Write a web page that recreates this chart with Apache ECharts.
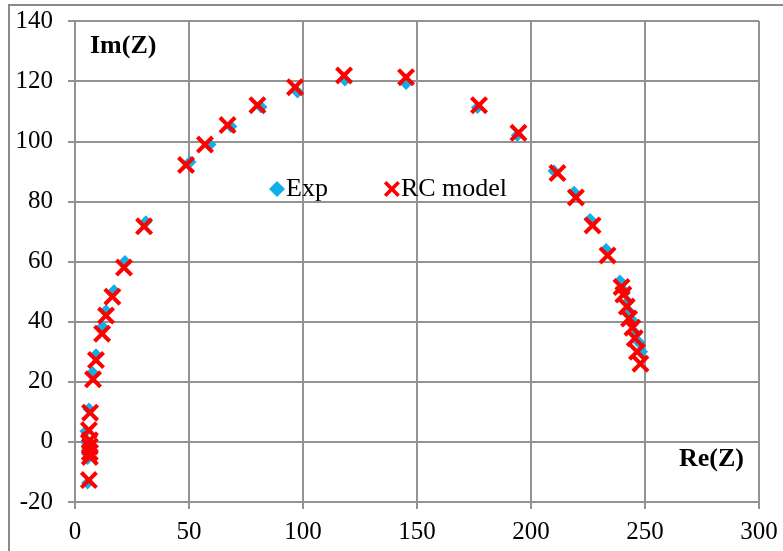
<!DOCTYPE html>
<html>
<head>
<meta charset="utf-8">
<script src="https://cdn.jsdelivr.net/npm/echarts@6/dist/echarts.min.js"></script>
<style>
  html, body { margin: 0; padding: 0; background: #fff; }
  #chart { width: 783px; height: 551px; }
</style>
</head>
<body>
<div id="chart"></div>
<script>
// Nyquist data, [Re(Z), Im(Z)]
var expData = [
  [5.5, -13.7], [5.5, -5.5], [5.5, -4], [5.5, -2], [5, 0], [4.8, 3.5], [6.1, 10.9],
  [7.7, 23.1], [9.2, 29], [12, 38.3], [13.6, 43.6], [17.1, 50.3], [21.9, 60], [31.1, 73.2],
  [50.4, 93.1], [59.2, 98.9], [68.4, 104.9], [81.6, 111.4], [97.6, 116.4], [118.4, 120.4],
  [145.2, 119.2], [176.5, 111.2], [194, 102], [210.1, 90.1], [218.9, 83], [225.9, 74],
  [232.9, 64], [239, 53.5], [241, 50], [242.5, 46.5], [243.5, 43], [245, 40], [246, 36],
  [247.5, 33], [248.5, 30]
];
var rcData = [
  [6.1, -12.7], [6.5, -5], [6.5, -3.5], [6.5, -1.5], [6.5, 0.5], [6.1, 3.9], [6.6, 9.7],
  [7.9, 20.8], [9.2, 27.2], [11.9, 36], [13.6, 42], [16.4, 48.3], [21.5, 58], [30.3, 71.7],
  [48.7, 92.1], [57, 98.9], [66.9, 105.4], [80, 112], [96.5, 118], [118, 121.9],
  [145.2, 121.3], [177.2, 112], [194.5, 102.8], [211.6, 89.4], [219.7, 81.3], [227, 72],
  [233.6, 62], [239.7, 51.5], [240.5, 49], [242, 45], [243, 41], [244.5, 38], [245.5, 34.5],
  [246.5, 30], [248, 26]
];
var seriesNames = ["Exp", "RC model"];

var font = "'Liberation Serif', 'Times New Roman', serif";
var xIcon = "path://M0 1.6L1.6 0L5 3.4L8.4 0L10 1.6L6.6 5L10 8.4L8.4 10L5 6.6L1.6 10L0 8.4L3.4 5Z";
var gridColor = "#939393";

var myChart = echarts.init(document.getElementById("chart"));
var option = {
  animation: false,
  backgroundColor: "#fff",
  textStyle: { fontFamily: font },
  grid: { left: 75, top: 21, right: 24, bottom: 49 },
  legend: {
    left: 264,
    top: 171,
    itemWidth: 16,
    itemHeight: 16,
    itemGap: 56,
    textStyle: { fontFamily: font, fontSize: 26, color: "#000", padding: [0, 0, 0, -4] },
    data: [
      { name: seriesNames[0], icon: "diamond" },
      { name: seriesNames[1], icon: xIcon }
    ]
  },
  xAxis: {
    type: "value",
    min: 0,
    max: 300,
    interval: 50,
    axisLine: { show: true, onZero: false, lineStyle: { color: gridColor, width: 2 } },
    axisTick: { show: true, length: 7, lineStyle: { color: gridColor, width: 2 } },
    splitLine: { show: true, lineStyle: { color: gridColor, width: 2 } },
    axisLabel: { color: "#000", fontSize: 25, fontFamily: font, margin: 18 }
  },
  yAxis: {
    type: "value",
    min: -20,
    max: 140,
    interval: 20,
    axisLine: { show: true, onZero: false, lineStyle: { color: gridColor, width: 2 } },
    axisTick: { show: true, length: 7, lineStyle: { color: gridColor, width: 2 } },
    splitLine: { show: true, lineStyle: { color: gridColor, width: 2 } },
    axisLabel: { color: "#000", fontSize: 25, fontFamily: font, margin: 22 }
  },
  graphic: [
    {
      type: "rect",
      shape: { x: 9, y: 5, width: 780, height: 560 },
      style: { fill: "none", stroke: "#8a8a8a", lineWidth: 2 },
      silent: true
    },
    {
      type: "text",
      left: 90,
      top: 33,
      style: { text: "Im(Z)", font: "bold 26px " + font, fill: "#000" }
    },
    {
      type: "text",
      left: 679,
      top: 446,
      style: { text: "Re(Z)", font: "bold 26px " + font, fill: "#000" }
    }
  ],
  series: [
    {
      name: seriesNames[0],
      type: "scatter",
      symbol: "diamond",
      symbolSize: 13,
      itemStyle: { color: "#12aee8", opacity: 1 },
      data: expData,
      z: 2
    },
    {
      name: seriesNames[1],
      type: "scatter",
      symbol: xIcon,
      symbolSize: 18,
      itemStyle: { color: "#ff0000", opacity: 1 },
      data: rcData,
      z: 3
    }
  ]
};
myChart.setOption(option);
</script>
</body>
</html>
